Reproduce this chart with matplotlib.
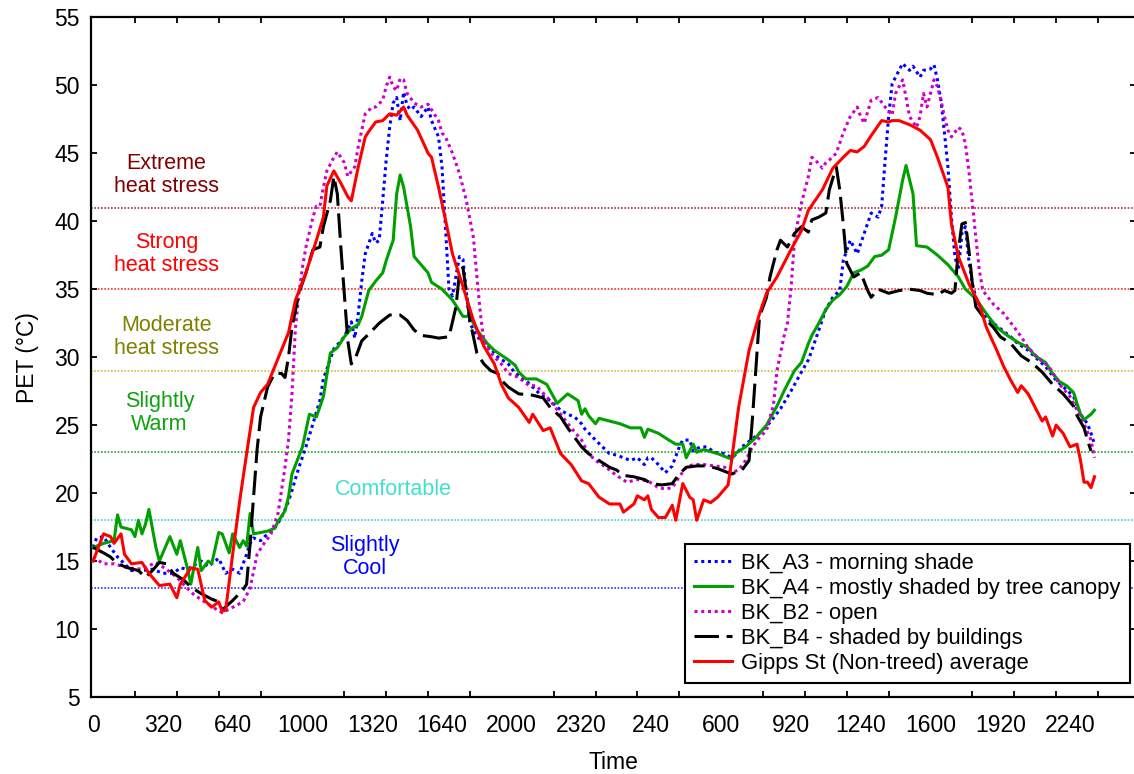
import matplotlib
matplotlib.use("Agg")
import matplotlib.pyplot as plt

plt.rcParams['font.family'] = ['Liberation Sans', 'DejaVu Sans']

# x = number of 10-minute steps since midnight of day 1
tick_labels = ["0", "320", "640", "1000", "1320", "1640", "2000", "2320",
               "240", "600", "920", "1240", "1600", "1920", "2240"]

# (step, PET)
bk_a3 = [(0, 16.0), (1, 16.7), (3, 16.8), (5, 16.0), (7, 15.3), (9, 14.8), (11, 14.3), (14, 14.3),
         (17, 14.4), (20, 14.1), (23, 14.1), (25, 14.5), (27, 14.4), (31, 15.0), (33, 14.6), (36, 15.2),
         (38, 14.1), (40, 14.4), (42, 14.1), (44, 15.5), (45, 16.3), (46, 16.7), (48, 16.5), (50, 17.0),
         (52, 17.4), (54, 18.2), (56, 19.4), (57, 20.2), (59, 21.9), (61, 23.4), (63, 25.1), (65, 26.8),
         (66, 28.4), (69, 30.6), (72, 31.5), (74, 32.6), (75, 31.4), (76, 33.2), (77, 35.6), (78, 37.6),
         (80, 39.1), (81, 38.4), (82, 38.6), (83, 41.5), (84, 44.5), (85, 46.9), (86, 48.7), (87, 49.1),
         (88, 47.4), (89, 49.5), (90, 48.5), (91, 48.2), (92, 48.4), (94, 47.7), (96, 48.4), (97, 47.4),
         (99, 46.2), (100, 44.0), (101, 39.5), (102, 35.0), (103, 34.5), (105, 37.4), (106, 37.2),
         (107, 34.7), (108, 32.5), (110, 31.5), (113, 30.9), (116, 30.0), (119, 29.5), (121, 28.8),
         (124, 28.3), (128, 27.3), (131, 26.8), (134, 26.1), (136, 25.8), (138, 25.6), (140, 25.1),
         (141, 24.7), (144, 23.9), (146, 23.4), (148, 22.9), (150, 22.8), (154, 22.4), (156, 22.6),
         (158, 22.1), (159, 22.6), (160, 22.6), (162, 22.1), (164, 21.5), (166, 22.0), (168, 23.4),
         (169, 23.9), (171, 23.9), (172, 23.1), (174, 23.4), (176, 23.4), (178, 23.0), (181, 22.9),
         (183, 22.6), (184, 22.8), (186, 23.4), (188, 23.8), (191, 24.4), (194, 25.2), (197, 26.2),
         (200, 27.5), (203, 28.9), (205, 29.8), (206, 30.5), (208, 32.0), (210, 33.5), (212, 34.4),
         (214, 34.9), (215, 37.1), (217, 38.6), (219, 37.6), (221, 39.1), (223, 40.6), (225, 40.3),
         (226, 41.1), (227, 44.5), (228, 47.7), (229, 50.1), (230, 50.6), (232, 51.6), (234, 51.1),
         (235, 51.4), (237, 50.6), (238, 51.1), (240, 51.2), (241, 51.5), (242, 50.4), (243, 48.9),
         (244, 46.5), (245, 44.0), (246, 40.3), (247, 37.4), (248, 36.4), (249, 39.1), (250, 39.6),
         (251, 37.1), (252, 35.4), (253, 34.4), (255, 33.2), (257, 32.7), (260, 32.1), (263, 31.5),
         (265, 31.0), (268, 30.5), (270, 30.0), (273, 29.3), (276, 28.3), (279, 27.6), (281, 27.1),
         (283, 25.8), (285, 25.1), (286, 24.4), (287, 23.6)]

bk_a4 = [(0, 16.0), (3, 16.3), (6, 16.5), (7, 18.4), (8, 17.5), (11, 17.3), (12, 16.8), (13, 18.0),
         (14, 17.0), (15, 17.7), (16, 18.8), (18, 16.0), (19, 15.0), (22, 16.8), (24, 15.5), (25, 16.5),
         (27, 14.5), (28, 13.3), (30, 16.0), (31, 14.3), (33, 15.0), (34, 14.8), (36, 17.1), (37, 17.0),
         (39, 15.6), (40, 17.0), (42, 16.0), (43, 16.5), (44, 16.1), (45, 18.5), (46, 17.0), (50, 17.2),
         (52, 17.4), (53, 17.9), (55, 18.7), (56, 19.7), (57, 21.4), (60, 23.4), (62, 25.8), (64, 25.6),
         (66, 27.1), (68, 30.3), (70, 30.7), (72, 31.5), (74, 32.1), (76, 32.4), (77, 33.0), (79, 34.9),
         (81, 35.6), (83, 36.2), (84, 37.1), (86, 38.6), (87, 42.0), (88, 43.4), (89, 42.5), (91, 39.6),
         (92, 37.4), (94, 36.8), (96, 36.2), (97, 35.5), (100, 35.0), (103, 34.2), (106, 33.0),
         (108, 33.0), (110, 32.0), (113, 31.0), (115, 30.5), (119, 29.8), (121, 29.4), (122, 28.9),
         (124, 28.4), (127, 28.4), (130, 28.0), (133, 26.6), (136, 27.3), (139, 26.8), (140, 25.8),
         (141, 26.2), (142, 25.7), (144, 25.1), (145, 25.5), (148, 25.3), (151, 25.1), (154, 24.8),
         (157, 24.8), (158, 24.1), (159, 24.7), (162, 24.4), (165, 23.9), (167, 23.6), (169, 23.6),
         (170, 22.6), (172, 23.6), (173, 23.0), (175, 23.2), (179, 22.9), (183, 22.5), (184, 22.9),
         (187, 23.4), (190, 24.1), (193, 25.0), (196, 26.4), (198, 27.5), (201, 29.0), (203, 29.6),
         (205, 31.0), (206, 31.6), (208, 32.5), (210, 33.5), (212, 34.2), (214, 34.6), (216, 35.2),
         (218, 36.2), (220, 36.4), (222, 36.7), (224, 37.4), (226, 37.5), (228, 37.9), (230, 40.3),
         (232, 43.0), (233, 44.1), (235, 42.0), (236, 38.2), (239, 38.1), (242, 37.5), (245, 36.8),
         (248, 35.9), (250, 35.0), (253, 34.3), (256, 33.2), (259, 32.2), (262, 31.6), (265, 31.1),
         (268, 30.7), (270, 30.1), (273, 29.6), (275, 28.8), (277, 28.2), (279, 27.9), (281, 27.4),
         (283, 25.8), (284, 25.4), (286, 25.8), (287, 26.1)]

bk_b2 = [(0, 15.3), (3, 14.8), (6, 14.8), (10, 14.5), (14, 14.4), (18, 14.9), (21, 14.4), (24, 13.8),
         (27, 13.0), (29, 12.5), (32, 12.0), (35, 11.5), (37, 11.2), (40, 11.6), (43, 12.0), (45, 13.0),
         (47, 15.5), (49, 16.3), (51, 17.0), (53, 18.5), (55, 21.9), (56, 23.9), (57, 27.3), (58, 32.2),
         (59, 34.7), (60, 36.6), (61, 38.1), (63, 40.3), (64, 41.1), (65, 41.1), (66, 42.5), (67, 43.7),
         (69, 44.7), (70, 45.1), (72, 44.3), (73, 43.3), (75, 44.0), (76, 45.5), (77, 46.7), (78, 47.9),
         (80, 48.4), (81, 48.4), (83, 48.9), (84, 49.9), (85, 50.6), (86, 49.9), (87, 49.6), (88, 50.5),
         (89, 50.4), (90, 49.4), (92, 48.7), (94, 48.4), (96, 48.6), (97, 48.2), (99, 47.4), (100, 46.5),
         (101, 46.2), (103, 45.0), (105, 43.5), (107, 41.5), (109, 38.8), (110, 35.9), (111, 33.2),
         (112, 31.2), (114, 30.3), (117, 29.5), (119, 28.8), (122, 28.5), (125, 27.9), (127, 27.9),
         (131, 26.8), (134, 25.8), (137, 24.8), (140, 23.9), (142, 22.9), (144, 22.4), (147, 21.9),
         (150, 21.3), (153, 20.8), (156, 21.0), (159, 20.9), (162, 20.4), (164, 20.3), (166, 20.4),
         (168, 21.2), (170, 21.9), (172, 22.1), (175, 22.1), (178, 22.0), (181, 21.9), (183, 21.5),
         (185, 21.7), (187, 22.4), (189, 23.4), (191, 24.1), (193, 24.6), (195, 26.5), (196, 29.0),
         (198, 31.5), (199, 32.5), (200, 35.0), (201, 38.5), (202, 40.0), (203, 41.3), (205, 43.3),
         (206, 44.7), (207, 44.5), (209, 43.9), (210, 44.3), (211, 44.5), (213, 45.0), (215, 46.5),
         (217, 47.7), (219, 48.4), (220, 47.7), (221, 47.2), (223, 48.9), (225, 49.1), (227, 48.4),
         (229, 47.8), (230, 49.4), (232, 50.4), (233, 49.1), (234, 47.7), (236, 46.9), (237, 47.7),
         (238, 49.4), (239, 48.4), (241, 50.4), (242, 49.9), (243, 48.9), (244, 47.7), (245, 46.7),
         (246, 46.2), (248, 46.9), (249, 46.7), (250, 45.7), (251, 43.7), (252, 41.3), (253, 38.8),
         (254, 36.4), (255, 34.9), (258, 33.9), (261, 33.2), (264, 32.2), (266, 31.5), (268, 30.7),
         (271, 29.9), (274, 29.3), (277, 28.0), (280, 27.1), (282, 26.1), (284, 25.1), (286, 23.9),
         (287, 22.6)]

bk_b4 = [(0, 16.0), (3, 15.6), (5, 15.3), (7, 14.8), (10, 14.5), (13, 14.3), (15, 13.8), (17, 14.3),
         (19, 14.9), (21, 14.8), (23, 14.1), (26, 13.6), (28, 13.1), (31, 12.6), (34, 12.2), (36, 12.0),
         (37, 11.4), (40, 12.1), (43, 12.9), (44, 13.3), (45, 16.3), (46, 19.8), (47, 23.2), (48, 25.6),
         (50, 27.8), (52, 28.8), (54, 28.8), (55, 28.5), (56, 30.0), (57, 32.2), (59, 34.7), (61, 36.2),
         (63, 37.9), (65, 38.1), (66, 39.6), (68, 41.5), (69, 43.3), (70, 42.0), (71, 38.1), (72, 34.7),
         (73, 31.2), (74, 29.5), (75, 29.8), (77, 31.2), (79, 31.7), (82, 32.5), (85, 33.1), (88, 33.1),
         (90, 32.7), (92, 32.0), (94, 31.6), (97, 31.5), (99, 31.4), (102, 31.5), (104, 33.7),
         (105, 36.2), (106, 36.6), (107, 34.7), (108, 32.7), (109, 31.5), (110, 30.3), (112, 29.5),
         (114, 29.0), (116, 28.8), (117, 28.3), (119, 27.8), (122, 27.3), (126, 27.2), (129, 27.0),
         (131, 26.3), (134, 25.6), (136, 24.8), (138, 24.1), (140, 23.4), (142, 22.9), (145, 22.4),
         (148, 21.9), (150, 21.7), (152, 21.3), (155, 21.2), (158, 21.0), (160, 20.7), (163, 20.6),
         (166, 20.7), (168, 21.4), (170, 21.9), (173, 22.0), (176, 22.0), (179, 21.8), (182, 21.5),
         (183, 21.4), (186, 21.7), (188, 22.4), (189, 25.6), (190, 29.3), (191, 33.0), (193, 34.4),
         (194, 35.9), (196, 37.9), (197, 38.6), (199, 38.1), (201, 39.1), (203, 39.6), (205, 39.2),
         (206, 40.1), (208, 40.3), (210, 40.6), (211, 42.3), (213, 44.0), (214, 42.3), (215, 39.8),
         (216, 36.9), (218, 35.9), (220, 36.2), (222, 34.9), (223, 34.4), (225, 35.0), (228, 34.7),
         (231, 34.9), (234, 35.0), (237, 34.9), (239, 34.7), (242, 34.6), (244, 34.9), (246, 34.7),
         (247, 34.9), (248, 37.9), (249, 39.8), (250, 39.9), (251, 37.9), (252, 35.4), (253, 33.7),
         (255, 33.0), (258, 32.2), (260, 31.5), (263, 31.0), (266, 30.1), (269, 29.6), (272, 28.9),
         (275, 28.0), (278, 27.3), (281, 26.4), (282, 25.7), (284, 24.8), (285, 23.9), (286, 23.1)]

gipps = [(0, 15.0), (3, 17.0), (5, 16.8), (6, 16.3), (8, 17.0), (9, 15.5), (11, 14.8), (14, 14.9),
         (16, 14.1), (19, 13.2), (22, 13.3), (24, 12.3), (25, 13.3), (28, 14.5), (30, 14.4), (32, 12.1),
         (34, 11.6), (36, 12.0), (37, 11.3), (38, 11.4), (40, 15.5), (42, 19.4), (44, 22.9), (46, 26.3),
         (48, 27.4), (50, 28.0), (53, 29.9), (56, 31.8), (58, 34.2), (61, 36.2), (64, 38.6), (66, 40.3),
         (67, 42.6), (69, 43.7), (71, 42.8), (73, 41.8), (74, 41.5), (76, 44.0), (78, 46.2), (79, 46.6),
         (81, 47.3), (83, 47.4), (85, 47.9), (87, 47.8), (89, 48.4), (90, 47.8), (93, 46.7), (96, 45.0),
         (97, 44.7), (99, 42.5), (101, 40.1), (103, 37.6), (106, 35.2), (109, 32.7), (112, 30.8),
         (115, 29.5), (117, 28.0), (119, 27.0), (122, 26.3), (125, 25.2), (126, 25.8), (129, 24.6),
         (131, 24.8), (134, 22.9), (137, 22.1), (140, 20.9), (142, 20.7), (145, 19.7), (148, 19.2),
         (151, 19.2), (152, 18.6), (155, 19.2), (156, 19.8), (158, 19.5), (159, 19.8), (160, 18.8),
         (162, 18.2), (164, 18.2), (166, 19.1), (167, 18.0), (169, 20.7), (171, 19.7), (172, 19.5),
         (173, 18.0), (175, 19.5), (177, 19.3), (179, 19.7), (180, 20.0), (182, 20.6), (183, 22.4),
         (185, 26.3), (188, 30.5), (191, 33.2), (193, 34.7), (196, 35.9), (200, 37.9), (203, 39.3),
         (205, 40.8), (209, 42.3), (212, 43.9), (215, 44.7), (217, 45.2), (219, 45.1), (221, 45.5),
         (223, 46.3), (226, 47.4), (228, 47.3), (229, 47.4), (231, 47.4), (234, 47.1), (237, 46.7),
         (240, 46.0), (242, 44.7), (245, 42.5), (246, 39.8), (248, 37.4), (251, 35.4), (254, 33.9),
         (256, 32.2), (259, 30.5), (261, 29.3), (263, 28.3), (265, 27.4), (266, 27.9), (268, 27.3),
         (270, 26.3), (272, 25.3), (273, 25.6), (275, 24.2), (276, 25.0), (278, 24.4), (280, 23.4),
         (282, 23.6), (283, 22.4), (284, 20.8), (285, 20.8), (286, 20.4), (287, 21.2)]

# thermal comfort class boundaries
class_limits = [41, 35, 29, 23, 18, 13]
limit_colors = ["#b03030", "#ff3030", "#c8c040", "#30a030", "#40d0d0", "#3030ff"]

class_names = ["Extreme\nheat stress", "Strong\nheat stress", "Moderate\nheat stress",
               "Slightly\nWarm", "Comfortable", "Slightly\nCool"]
class_colors = ["#800000", "#ff0000", "#808000", "#10a010", "#40e0d0", "#0000ff"]
class_x = [21, 21, 21, 19, 86, 78]
class_y = [43.4, 37.6, 31.5, 25.9, 20.3, 15.3]

series = [
    (bk_a3, "BK_A3 - morning shade", "#0000ff", (0, (1, 1.2))),
    (bk_a4, "BK_A4 - mostly shaded by tree canopy", "#00a000", "-"),
    (bk_b2, "BK_B2 - open", "#cc00cc", (0, (1, 1.2))),
    (bk_b4, "BK_B4 - shaded by buildings", "black", (0, (8, 2.5))),
    (gipps, "Gipps St (Non-treed) average", "#ff0000", "-"),
]

fig = plt.figure(figsize=(11.34, 7.74), dpi=100)
ax = fig.add_axes([91 / 1134, 77 / 774, 1045 / 1134, 679.7 / 774])

for lim, c in zip(class_limits, limit_colors):
    ax.axhline(lim, color=c, lw=1.2, linestyle=(0, (1, 1)), zorder=1)

for name, c, x, y in zip(class_names, class_colors, class_x, class_y):
    ax.text(x, y, name, color=c, fontsize=15.5, ha="center", va="center", linespacing=1.15)

for pts, label, c, ls in series:
    t = [p[0] for p in pts]
    v = [p[1] for p in pts]
    ax.plot(t, v, color=c, lw=2.2, linestyle=ls, label=label, zorder=3)

ax.set_xlim(-0.6, 298.9)
ax.set_ylim(5, 55)

ax.set_xticks(range(0, 281, 20))
ax.set_xticklabels(tick_labels)
ax.set_xticks(range(0, 300, 12), minor=True)
ax.set_yticks(range(5, 56, 5))
ax.tick_params(axis="x", which="major", length=0, pad=12, labelsize=16.5)
ax.tick_params(axis="x", which="minor", direction="in", length=4, width=1.3, top=True, bottom=True)
ax.tick_params(axis="y", which="major", direction="in", length=4, width=1.3, left=True, right=True,
               pad=8, labelsize=16.5)
for s in ax.spines.values():
    s.set_linewidth(1.6)

ax.set_xlabel("Time", fontsize=16.5)
ax.set_ylabel("PET (\u00b0C)", fontsize=16.5)
ax.xaxis.set_label_coords(0.5, -0.08)
ax.yaxis.set_label_coords(-0.05, 0.5)

leg = ax.legend(loc="lower right", bbox_to_anchor=(0.9943, 0.0206), borderaxespad=0,
                fontsize=15.8, fancybox=False, framealpha=1, edgecolor="black",
                handlelength=1.7, handletextpad=0.45, labelspacing=0.18, borderpad=0.42)
leg.get_frame().set_linewidth(1.5)

fig.savefig("out.png", dpi=100)
